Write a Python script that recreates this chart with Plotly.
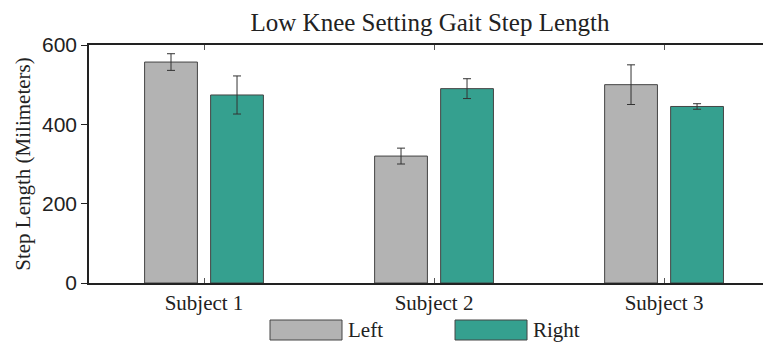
"""Low knee setting gait step length (Plotly grouped bar)."""

import plotly.graph_objects as go

SUBJECTS = ["Subject 1", "Subject 2", "Subject 3"]
LEFT_MM = [557, 320, 500]
LEFT_ERR = [21, 20, 50]
RIGHT_MM = [474, 490, 445]
RIGHT_ERR = [48, 25, 7]
Y_TICKS = [0, 200, 400, 600]

GREY = "#b3b3b3"
TEAL = "#35a08f"
EDGE = "#444444"
SERIF = "Liberation Serif, Times New Roman, serif"
SANS = "Liberation Sans, Arial, sans-serif"

fig = go.Figure(data=[
    go.Bar(
        name="Left", x=SUBJECTS, y=LEFT_MM,
        marker=dict(color=GREY, line=dict(color=EDGE, width=1)),
        error_y=dict(type="data", array=LEFT_ERR, color="#333333",
                     thickness=1, width=4),
        showlegend=False,
    ),
    go.Bar(
        name="Right", x=SUBJECTS, y=RIGHT_MM,
        marker=dict(color=TEAL, line=dict(color=EDGE, width=1)),
        error_y=dict(type="data", array=RIGHT_ERR, color="#333333",
                     thickness=1, width=4),
        showlegend=False,
    ),
])

# legend drawn as large boxes under the axis, like the original
legend_items = [("Left", GREY, 0.2654), ("Right", TEAL, 0.5367)]
box_w = 72 / 682
for label, color, x0 in legend_items:
    fig.add_shape(
        type="rect", xref="paper", yref="paper",
        x0=x0, x1=x0 + box_w, y0=-0.2395, y1=-0.1555,
        fillcolor=color, line=dict(color=EDGE, width=1),
    )
    fig.add_annotation(
        text=label, xref="paper", yref="paper",
        x=x0 + box_w + 4 / 682, y=-0.1975, xanchor="left", yanchor="middle",
        showarrow=False, font=dict(family=SERIF, size=21, color="#222222"),
    )

# page has an 8px body margin, so the figure is sized to fit inside it
fig.update_layout(
    title=dict(text="Low Knee Setting Gait Step Length", xref="paper", x=0.5,
               xanchor="center", y=1 - 14 / 338, yanchor="middle",
               font=dict(family=SERIF, size=25, color="#222222")),
    barmode="group",
    bargap=0.426,
    bargroupgap=0.2,
    width=763, height=338,
    margin=dict(l=81, r=0, t=37, b=63),
    plot_bgcolor="white",
    paper_bgcolor="white",
    xaxis=dict(
        range=[-0.5, 2.465],
        showline=True, linecolor="#222222", linewidth=1.5, mirror="ticks",
        ticks="inside", ticklen=5, tickcolor="#555555",
        tickfont=dict(family=SERIF, size=21, color="#222222"),
        showgrid=False,
    ),
    yaxis=dict(
        range=[0, 600],
        tickvals=Y_TICKS,
        showline=True, linecolor="#222222", linewidth=1.5,
        ticks="outside", ticklen=6, tickcolor="#222222",
        tickfont=dict(family=SANS, size=21, color="#222222"),
        title=dict(text="Step Length (Milimeters)", standoff=6,
                   font=dict(family=SERIF, size=21, color="#222222")),
        showgrid=False, zeroline=False,
    ),
)

fig.write_html("out.html")
